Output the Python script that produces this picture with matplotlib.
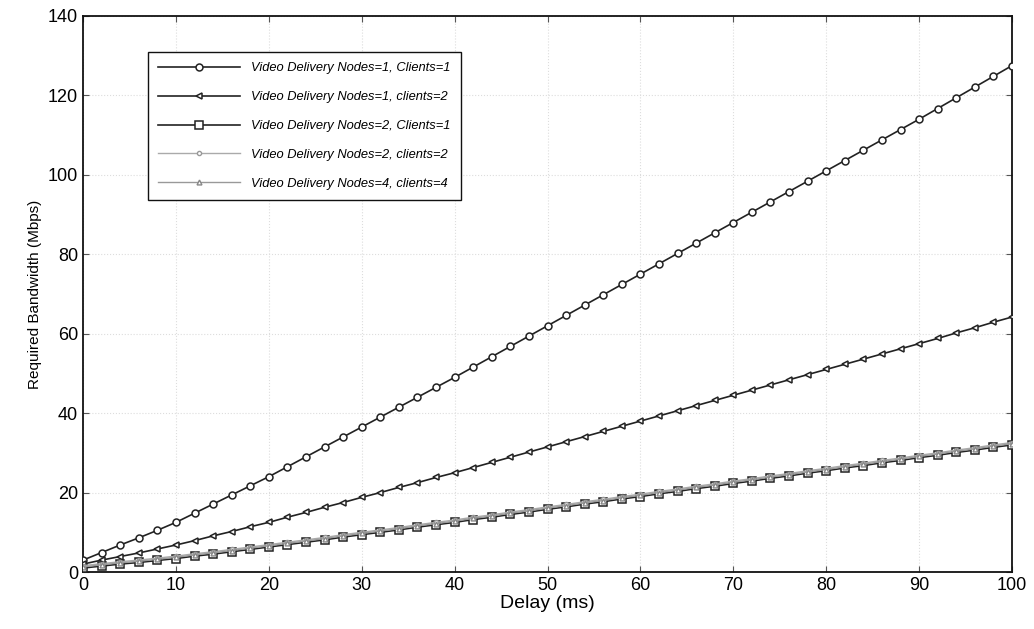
import matplotlib.pyplot as plt
import numpy as np

plt.rcParams['font.family'] = ['Liberation Sans', 'DejaVu Sans']

# delay samples (ms), one marker every 2 ms
delay = list(range(0, 101, 2))

# Video Delivery Nodes=1, Clients=1
bw_n1_c1 = [3.0, 4.9, 6.8, 8.6, 10.5, 12.5, 14.8, 17.1, 19.4, 21.7,
            24.0, 26.5, 29.0, 31.5, 34.0, 36.5, 39.0, 41.5, 44.0, 46.5,
            49.0, 51.6, 54.2, 56.8, 59.4, 62.0, 64.6, 67.2, 69.8, 72.4,
            75.0, 77.6, 80.2, 82.8, 85.4, 88.0, 90.6, 93.2, 95.8, 98.4,
            101.0, 103.6, 106.2, 108.8, 111.4, 114.0, 116.7, 119.4, 122.1, 124.8,
            127.5]
# Video Delivery Nodes=1, clients=2
bw_n1_c2 = [2.0, 3.0, 3.9, 4.8, 5.8, 6.8, 7.9, 9.1, 10.2, 11.4,
            12.5, 13.8, 15.0, 16.3, 17.5, 18.8, 20.0, 21.3, 22.5, 23.8,
            25.0, 26.3, 27.6, 28.9, 30.2, 31.5, 32.8, 34.1, 35.4, 36.7,
            38.0, 39.3, 40.6, 41.9, 43.2, 44.5, 45.8, 47.1, 48.4, 49.7,
            51.0, 52.3, 53.6, 54.9, 56.2, 57.5, 58.8, 60.2, 61.5, 62.9,
            64.2]
# Video Delivery Nodes=2, Clients=1
bw_n2_c1 = [1.0, 1.5, 2.0, 2.4, 2.9, 3.4, 4.0, 4.5, 5.1, 5.7,
            6.3, 6.9, 7.5, 8.1, 8.8, 9.4, 10.0, 10.6, 11.3, 11.9,
            12.5, 13.2, 13.8, 14.5, 15.1, 15.8, 16.4, 17.1, 17.7, 18.4,
            19.0, 19.7, 20.3, 21.0, 21.6, 22.3, 22.9, 23.6, 24.2, 24.9,
            25.5, 26.2, 26.8, 27.5, 28.1, 28.8, 29.4, 30.1, 30.7, 31.4,
            32.0]
# Video Delivery Nodes=2, clients=2
bw_n2_c2 = [1.6, 2.1, 2.6, 3.0, 3.5, 4.0, 4.6, 5.1, 5.7, 6.3,
            6.9, 7.5, 8.1, 8.7, 9.4, 10.0, 10.6, 11.2, 11.9, 12.5,
            13.1, 13.8, 14.4, 15.1, 15.7, 16.4, 17.0, 17.7, 18.3, 19.0,
            19.6, 20.3, 20.9, 21.6, 22.2, 22.9, 23.5, 24.2, 24.8, 25.5,
            26.1, 26.8, 27.4, 28.1, 28.7, 29.4, 30.0, 30.7, 31.3, 32.0,
            32.6]
# Video Delivery Nodes=4, clients=4
bw_n4_c4 = [1.3, 1.8, 2.3, 2.7, 3.2, 3.7, 4.3, 4.8, 5.4, 6.0,
            6.6, 7.2, 7.8, 8.4, 9.1, 9.7, 10.3, 10.9, 11.6, 12.2,
            12.8, 13.5, 14.1, 14.8, 15.4, 16.1, 16.7, 17.4, 18.0, 18.7,
            19.3, 20.0, 20.6, 21.3, 21.9, 22.6, 23.2, 23.9, 24.5, 25.2,
            25.8, 26.5, 27.1, 27.8, 28.4, 29.1, 29.7, 30.4, 31.0, 31.7,
            32.3]

labels = ['Video Delivery Nodes=1, Clients=1',
          'Video Delivery Nodes=1, clients=2',
          'Video Delivery Nodes=2, Clients=1',
          'Video Delivery Nodes=2, clients=2',
          'Video Delivery Nodes=4, clients=4']

fig = plt.figure(figsize=(10.34, 6.29), dpi=100)
ax = fig.add_axes([0.0803, 0.0906, 0.8984, 0.884])

ax.plot(delay, bw_n1_c1, color='#222222', lw=1.2, marker='o', ms=5,
        mfc='white', mec='#222222', mew=1.1, label=labels[0], zorder=5)
ax.plot(delay, bw_n1_c2, color='#222222', lw=1.2, marker='<', ms=5,
        mfc='white', mec='#222222', mew=1.1, label=labels[1], zorder=5)
ax.plot(delay, bw_n2_c1, color='#222222', lw=1.2, marker='s', ms=6,
        mfc='white', mec='#222222', mew=1.1, label=labels[2], zorder=4)
ax.plot(delay, bw_n2_c2, color='#aaaaaa', lw=1.0, marker='o', ms=3,
        mfc='white', mec='#999999', mew=1.0, label=labels[3], zorder=6)
ax.plot(delay, bw_n4_c4, color='#999999', lw=1.0, marker='^', ms=3.5,
        mfc='white', mec='#888888', mew=1.0, label=labels[4], zorder=6)

ax.set_xlim(0, 100)
ax.set_ylim(0, 140)
ax.set_xticks(np.arange(0, 101, 10))
ax.set_yticks(np.arange(0, 141, 20))
ax.tick_params(direction='in', top=True, right=True, labelsize=13, length=4,
               width=0.8, color='#555555')
ax.grid(True, linestyle=':', color='#dddddd', linewidth=0.8)
for s in ax.spines.values():
    s.set_linewidth(1.3)
    s.set_color('#111111')

ax.set_xlabel('Delay (ms)', fontsize=14, labelpad=1)
ax.set_ylabel('Required Bandwidth (Mbps)', fontsize=11, labelpad=4)

leg = ax.legend(loc='upper left', bbox_to_anchor=(0.07, 0.935), borderaxespad=0,
                handlelength=6.3, labelspacing=1.3, borderpad=0.8,
                handletextpad=0.9, fancybox=False, framealpha=1,
                edgecolor='#111111', prop={'style': 'italic', 'size': 9.3})
leg.get_frame().set_linewidth(1.0)

fig.savefig('out.png', dpi=100)
